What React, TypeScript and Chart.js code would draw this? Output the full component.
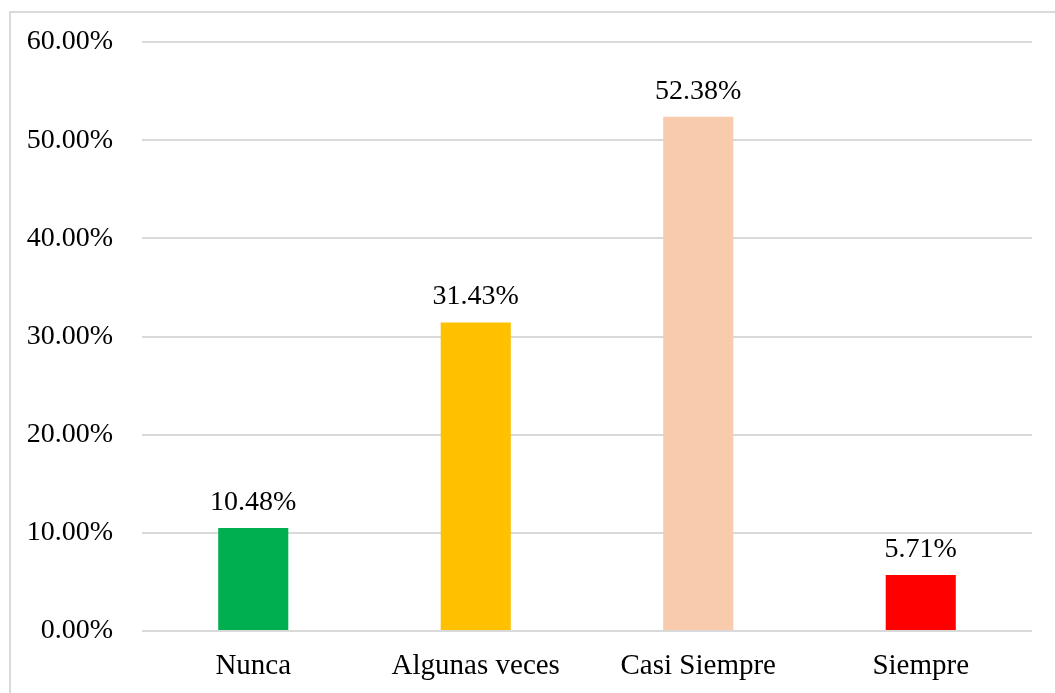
import React, { useEffect, useRef } from "react";
import { Chart, registerables } from "chart.js";

Chart.register(...registerables);

const categories = ["Nunca", "Algunas veces", "Casi Siempre", "Siempre"];
const values = [10.48, 31.43, 52.38, 5.71];
const barColors = ["#00B050", "#FFC000", "#F8CBAD", "#FF0000"];
const yTicks = [0, 10, 20, 30, 40, 50, 60];

const FONT = "'Liberation Serif', 'Times New Roman', serif";
const FONT_SIZE = 28;
const X_FONT_SIZE = 29;

const valueLabels = {
  id: "valueLabels",
  afterDatasetsDraw(chart: any) {
    const ctx = chart.ctx;
    const meta = chart.getDatasetMeta(0);
    ctx.save();
    ctx.font = `${FONT_SIZE}px ${FONT}`;
    ctx.fillStyle = "#000000";
    ctx.textAlign = "center";
    ctx.textBaseline = "alphabetic";
    meta.data.forEach((bar: any, i: number) => {
      ctx.fillText(values[i].toFixed(2) + "%", bar.x, bar.y - 18);
    });
    ctx.restore();
  },
};

export default function App() {
  const ref = useRef<HTMLCanvasElement | null>(null);

  useEffect(() => {
    if (!ref.current) return;
    const chart = new Chart(ref.current, {
      type: "bar",
      data: {
        labels: categories,
        datasets: [
          {
            data: values,
            backgroundColor: barColors,
            borderWidth: 0,
            barPercentage: 0.315,
            categoryPercentage: 1,
          },
        ],
      },
      options: {
        animation: false,
        responsive: false,
        maintainAspectRatio: false,
        layout: { padding: { left: 20, right: 23, top: 42, bottom: 0 } },
        plugins: {
          legend: { display: false },
          tooltip: { enabled: false },
        },
        scales: {
          x: {
            grid: { display: false, drawTicks: false },
            border: { display: false },
            ticks: {
              color: "#000000",
              padding: 18,
              font: { family: FONT, size: X_FONT_SIZE },
            },
            afterFit: (scale: any) => {
              scale.height = 62;
            },
          },
          y: {
            min: 0,
            max: 60,
            afterBuildTicks: (scale: any) => {
              scale.ticks = yTicks.map((v) => ({ value: v }));
            },
            grid: { color: "#D9D9D9", lineWidth: 2, drawTicks: false },
            border: { display: false },
            ticks: {
              color: "#000000",
              padding: 29,
              font: { family: FONT, size: FONT_SIZE },
              callback: (v: any) => Number(v).toFixed(2) + "%",
            },
            afterFit: (scale: any) => {
              scale.width = 122;
              scale.paddingTop = 0;
              scale.paddingBottom = 0;
            },
          },
        },
      },
      plugins: [valueLabels],
    });
    return () => chart.destroy();
  }, []);

  return (
    <div
      style={{
        position: "fixed",
        left: 0,
        top: 0,
        width: 1055,
        height: 693,
        overflow: "hidden",
        background: "#ffffff",
      }}
    >
      <div
        style={{
          position: "absolute",
          left: 9,
          top: 11,
          width: 1200,
          height: 800,
          border: "2px solid #D9D9D9",
        }}
      />
      <canvas
        ref={ref}
        width={1055}
        height={693}
        style={{ position: "absolute", left: 0, top: 0, width: 1055, height: 693 }}
      />
    </div>
  );
}
